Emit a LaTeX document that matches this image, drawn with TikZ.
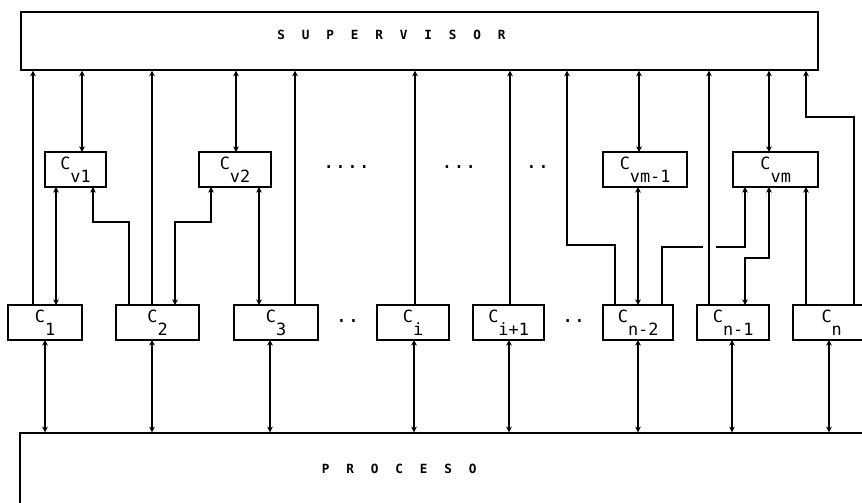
\documentclass[tikz,border=0pt]{standalone}
\usepackage{fontspec}
\setmonofont{DejaVu Sans Mono}
\usetikzlibrary{arrows.meta, positioning, calc}

\newcommand{\lsep}{\hspace{12pt}}
\newcommand{\csub}[1]{C\raisebox{-8.9pt}{#1}}

\begin{document}
\begin{tikzpicture}[
  x=0.025cm, y=-0.025cm,
  ctrl/.style={rectangle, draw, line width=1pt, outer sep=0pt, minimum height=0.875cm, inner sep=0pt, font=\fontsize{12}{12}\selectfont\ttfamily, text height=6pt, text depth=6pt},
  bigbox/.style={rectangle, draw, line width=1pt, inner sep=0pt},
  boxlabel/.style={font=\fontsize{9}{9}\selectfont\ttfamily\bfseries, inner sep=0pt},
  ellip/.style={font=\fontsize{14}{14}\selectfont\ttfamily, anchor=base, inner sep=0pt},
  arrow/.style={-{Stealth[length=4pt, width=4pt]}, line width=1pt},
  biarrow/.style={{Stealth[length=4pt, width=4pt]}-{Stealth[length=4pt, width=4pt]}, line width=1pt}
]
  \useasboundingbox (0,0) rectangle (862,503);
  \clip (0,0) rectangle (862,503);

  \node[bigbox, minimum width=19.925cm, minimum height=1.45cm] (sup) at (419.5,41) {};
  \node[boxlabel] (suptext) at ($(sup.center)+(-28,-6)$) {S\lsep U\lsep P\lsep E\lsep R\lsep V\lsep I\lsep S\lsep O\lsep R};
  \node[bigbox, minimum width=21.5cm, minimum height=2.175cm] (proc) at (450,476.5) {};
  \node[boxlabel] (proctext) at ($(proc.north west)+(380,37)$) {P\lsep R\lsep O\lsep C\lsep E\lsep S\lsep O};

  % local controllers
  \node[ctrl, minimum width=1.85cm] (c1) at (45,322.5) {\csub{1}};
  \node[ctrl, minimum width=2.075cm, right=0.85cm of c1] (c2) {\csub{2}};
  \node[ctrl, minimum width=2.1cm, right=0.875cm of c2] (c3) {\csub{3}};
  \node[ctrl, minimum width=1.8cm, right=1.475cm of c3] (ci) {\csub{i}};
  \node[ctrl, minimum width=1.775cm, right=0.6cm of ci] (ci1) {\csub{i+1}};
  \node[ctrl, minimum width=1.75cm, right=1.475cm of ci1] (cn2) {\csub{n-2}};
  \node[ctrl, minimum width=1.8cm, right=0.6cm of cn2] (cn1) {\csub{n-1}};
  \node[ctrl, minimum width=1.925cm, right=0.6cm of cn1] (cn) {\csub{n}};

  % coordinating controllers
  \node[ctrl, minimum width=1.525cm] (cv1) at (75.5,169.5) {\csub{v1}};
  \node[ctrl, minimum width=1.8cm, right=2.325cm of cv1] (cv2) {\csub{v2}};
  \node[ctrl, minimum width=2.1cm, right=8.3cm of cv2] (cvm1) {\csub{vm-1}};
  \node[ctrl, minimum width=2.125cm, right=1.15cm of cvm1] (cvm) {\csub{vm}};

  \node[ellip] (dotsa) at ($(c3.east)!0.5!(ci.west)$) {..};
  \node[ellip] (dotsb) at ($(ci1.east)!0.5!(cn2.west)$) {..};
  \node[ellip] (dotsc) at (346.5,169) {....};
  \node[ellip] (dotsd) at (459,169) {...};
  \node[ellip] (dotse) at (537.5,169) {..};

  \draw[biarrow] (sup.south -| 82,0) -- (cv1.north -| 82,0);
  \draw[biarrow] (sup.south -| 236,0) -- (cv2.north -| 236,0);
  \draw[biarrow] (sup.south -| 639,0) -- (cvm1.north -| 639,0);
  \draw[biarrow] (sup.south -| 769,0) -- (cvm.north -| 769,0);

  \draw[arrow] (c1.north -| 33,0) -- (sup.south -| 33,0);
  \draw[arrow] (c2.north -| 152,0) -- (sup.south -| 152,0);
  \draw[arrow] (c3.north -| 295,0) -- (sup.south -| 295,0);
  \draw[arrow] (ci.north -| 415,0) -- (sup.south -| 415,0);
  \draw[arrow] (ci1.north -| 510,0) -- (sup.south -| 510,0);
  \draw[arrow] (cn2.north -| 615,0) |- (567,245) -- (sup.south -| 567,0);
  \draw[arrow] (cn1.north -| 709,0) -- (sup.south -| 709,0);
  \draw[arrow] (cn.north -| 854,0) |- (806,117) -- (sup.south -| 806,0);

  \draw[biarrow] (cv1.south -| 56,0) -- (c1.north -| 56,0);
  \draw[arrow] (c2.north -| 129,0) |- (93,222) -- (cv1.south -| 93,0);
  \draw[biarrow] (cv2.south -| 211,0) |- (175,222) -- (c2.north -| 175,0);
  \draw[biarrow] (cv2.south -| 259,0) -- (c3.north -| 259,0);
  \draw[biarrow] (cvm1.south -| 638,0) -- (cn2.north -| 638,0);
  \draw[arrow] (cn2.north -| 662,0) |- (703,247) (716,247) -| (cvm.south -| 745,0);
  \draw[biarrow] (cvm.south -| 769,0) |- (745,258) -- (cn1.north -| 745,0);
  \draw[arrow] (cn.north -| 806,0) -- (cvm.south -| 806,0);

  \foreach \n/\x in {c1/45, c2/152, c3/270, ci/414, ci1/509, cn2/638, cn1/732, cn/829}
    \draw[biarrow] (\n.south -| \x,0) -- (proc.north -| \x,0);
\end{tikzpicture}
\end{document}
